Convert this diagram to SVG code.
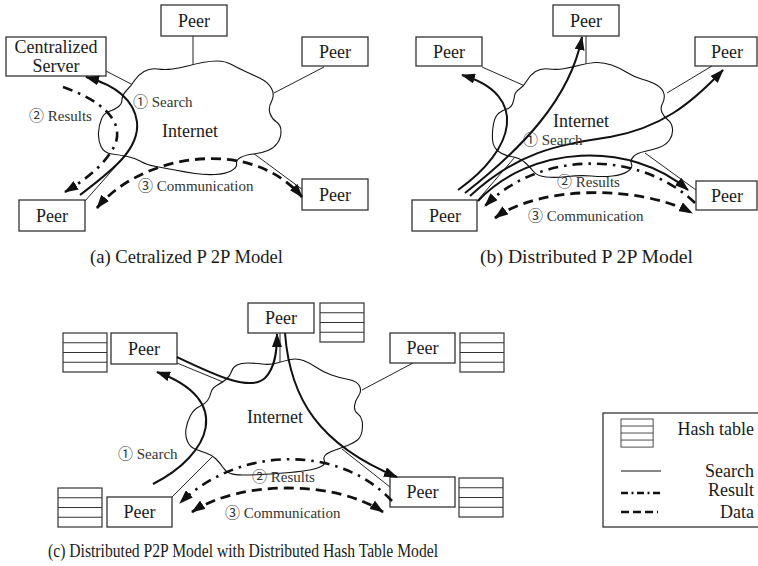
<svg xmlns="http://www.w3.org/2000/svg" width="758" height="566" viewBox="0 0 758 566">
<style>
.bg{fill:#fff}
.box{fill:#fff;stroke:#333;stroke-width:1.3}
.pt{font-family:"Liberation Serif","Times New Roman",serif;font-size:18px;fill:#1a1a1a;text-anchor:middle}
.lbl{font-family:"Liberation Serif","Noto Sans CJK SC",serif;font-size:15px;fill:#333}
.cap{font-family:"Liberation Serif","Times New Roman",serif;font-size:18px;fill:#1a1a1a}
.lg{font-family:"Liberation Serif","Times New Roman",serif;font-size:18px;fill:#1a1a1a;text-anchor:end}
.cloud{fill:#fff;stroke:#111;stroke-width:1.1}
.link{stroke:#222;stroke-width:1;fill:none}
.search{stroke:#111;stroke-width:2;fill:none;marker-end:url(#ah)}
.result{stroke:#111;stroke-width:2.6;fill:none;stroke-dasharray:10 6 2.5 6;marker-end:url(#ah)}
.data{stroke:#111;stroke-width:2.8;fill:none;stroke-dasharray:10 6;marker-start:url(#ahs);marker-end:url(#ah)}
.ht{fill:#fff;stroke:#333;stroke-width:1.2}
</style>
<defs>
<marker id="ah" markerUnits="userSpaceOnUse" viewBox="0 0 14 10" markerWidth="14" markerHeight="10" refX="13" refY="5" orient="auto"><path d="M0,0 L14,5 L0,10 Z" fill="#111"/></marker>
<marker id="ahs" markerUnits="userSpaceOnUse" viewBox="0 0 14 10" markerWidth="14" markerHeight="10" refX="13" refY="5" orient="auto-start-reverse"><path d="M0,0 L14,5 L0,10 Z" fill="#111"/></marker>
<g id="hash"><rect class="ht" x="0" y="0" width="44" height="39"/><path class="ht" d="M0,9.75 H44 M0,19.5 H44 M0,29.25 H44"/></g>
</defs>
<rect class="bg" x="0" y="0" width="758" height="566"/>

<!-- links (thin connectors) -->
<g id="links">
<path class="link" d="M106,71 L133,85 M193,36 L193,65 M324,67 L274,93 M253,153 L303,190 M85,201 L124,157"/>
<path class="link" d="M482,67 L525,86 M586,36 L586,65 M712,66 L667,93 M645,153 L696,190 M477,201 L515,157"/>
<path class="link" d="M177,363 L223,382 M280,333 L280,362 M413,363 L362,390 M342,449 L390,487 M172,497 L213,456"/>
</g>

<!-- Panel (a) -->
<g id="a-internet">
<path class="cloud" d="M 126.5,90.5 Q 131,86 134.5,80.5 Q 138,75 144,71.5 Q 150,68 157.5,69 Q 165,70 172.5,69 Q 180,68 187.5,66 Q 195,64 202.5,62.5 Q 210,61 217.5,61 Q 225,61 231.5,64.5 Q 238,68 245.5,71.5 Q 253,75 260.5,78.5 Q 268,82 271.5,88.5 Q 275,95 271.5,101.5 Q 268,108 270,113.5 Q 272,119 276.5,122 Q 281,125 281,131.5 Q 281,138 277.5,143 Q 274,148 268,150.5 Q 262,153 253.5,154 Q 245,155 240.5,157.5 Q 236,160 236.5,164 Q 237,168 231,171 Q 225,174 215,174.5 Q 205,175 195,173.5 Q 185,172 175,170 Q 165,168 156,166.5 Q 147,165 141,161.5 Q 135,158 127.5,156.5 Q 120,155 112,154 Q 104,153 101,146.5 Q 98,140 98.5,132.5 Q 99,125 101.5,119 Q 104,113 109,111.5 Q 114,110 118,107 Q 122,104 122,99.5 Q 122,95 126.5,90.5 Z"/>
<text class="pt" x="190" y="137">Internet</text>
</g>
<g id="a-server"><rect class="box" x="6" y="37" width="100" height="39"/><text class="pt" x="56" y="53">Centralized</text><text class="pt" x="56" y="72">Server</text></g>
<g id="a-peer-top"><rect class="box" x="161" y="5" width="66" height="31"/><text class="pt" x="194" y="27">Peer</text></g>
<g id="a-peer-right"><rect class="box" x="302" y="37" width="66" height="29"/><text class="pt" x="335" y="58">Peer</text></g>
<g id="a-peer-br"><rect class="box" x="302" y="179" width="66" height="31"/><text class="pt" x="335" y="201">Peer</text></g>
<g id="a-peer-bl"><rect class="box" x="19" y="200" width="66" height="31"/><text class="pt" x="52" y="222">Peer</text></g>

<!-- Panel (b) -->
<g id="b-internet">
<path class="cloud" d="M 519.5,89 Q 524,86 527,80.5 Q 530,75 535.5,71.5 Q 541,68 549,69 Q 557,70 565,68.5 Q 573,67 580.5,65 Q 588,63 595.5,62.5 Q 603,62 611.5,65 Q 620,68 627,72.5 Q 634,77 643,79.5 Q 652,82 657.5,85.5 Q 663,89 664,94 Q 665,99 662.5,103.5 Q 660,108 662,112.5 Q 664,117 668,120 Q 672,123 672.5,129 Q 673,135 669.5,140 Q 666,145 659,147.5 Q 652,150 644.5,151.5 Q 637,153 633.5,156.5 Q 630,160 631.5,164 Q 633,168 627.5,171.5 Q 622,175 612.5,176 Q 603,177 591.5,176 Q 580,175 567.5,176.5 Q 555,178 546,177 Q 537,176 533.5,171.5 Q 530,167 525,162.5 Q 520,158 511.5,156.5 Q 503,155 498,151 Q 493,147 492.5,139.5 Q 492,132 493.5,124 Q 495,116 499,113 Q 503,110 507,109 Q 511,108 512.5,104 Q 514,100 514.5,96 Q 515,92 519.5,89 Z"/>
<text class="pt" x="581" y="127">Internet</text>
</g>
<g id="b-peer-top"><rect class="box" x="553" y="5" width="66" height="31"/><text class="pt" x="586" y="27">Peer</text></g>
<g id="b-peer-left"><rect class="box" x="416" y="37" width="66" height="29"/><text class="pt" x="449" y="58">Peer</text></g>
<g id="b-peer-right"><rect class="box" x="695" y="37" width="62" height="29"/><text class="pt" x="727" y="58">Peer</text></g>
<g id="b-peer-br"><rect class="box" x="696" y="181" width="61" height="29"/><text class="pt" x="727" y="202">Peer</text></g>
<g id="b-peer-bl"><rect class="box" x="412" y="200" width="65" height="31"/><text class="pt" x="445" y="222">Peer</text></g>

<!-- Panel (c) -->
<g id="c-internet">
<path class="cloud" d="M 217.5,385 Q 223,382 226.5,379 Q 230,376 231.5,371.5 Q 233,367 237,365 Q 241,363 247.5,363 Q 254,363 262,364 Q 270,365 277,363 Q 284,361 290.5,359.5 Q 297,358 303.5,360.5 Q 310,363 316.5,367.5 Q 323,372 331.5,375 Q 340,378 348.5,379.5 Q 357,381 359.5,386 Q 362,391 358.5,396 Q 355,401 354.5,406 Q 354,411 357.5,413.5 Q 361,416 362,420.5 Q 363,425 362,431 Q 361,437 357.5,440 Q 354,443 347.5,445.5 Q 341,448 334,450.5 Q 327,453 325,455.5 Q 323,458 324.5,461 Q 326,464 321,466.5 Q 316,469 306.5,470.5 Q 297,472 283.5,473 Q 270,474 260,474.5 Q 250,475 242.5,475 Q 235,475 230.5,473.5 Q 226,472 223,467.5 Q 220,463 216,459 Q 212,455 206,453 Q 200,451 195,449 Q 190,447 187.5,441.5 Q 185,436 186,429 Q 187,422 190.5,415.5 Q 194,409 199.5,406.5 Q 205,404 207.5,400.5 Q 210,397 211,392.5 Q 212,388 217.5,385 Z"/>
<text class="pt" x="275" y="423">Internet</text>
</g>
<g id="c-peer-top"><rect class="box" x="248" y="303" width="66" height="30"/><text class="pt" x="281" y="324">Peer</text><use href="#hash" x="320" y="303"/></g>
<g id="c-peer-left"><use href="#hash" x="63" y="333"/><rect class="box" x="111" y="333" width="66" height="31"/><text class="pt" x="144" y="355">Peer</text></g>
<g id="c-peer-right"><rect class="box" x="390" y="333" width="65" height="30"/><text class="pt" x="422.5" y="354">Peer</text><use href="#hash" x="460" y="333"/></g>
<g id="c-peer-br"><rect class="box" x="390" y="477" width="65" height="30"/><text class="pt" x="422.5" y="498">Peer</text><use href="#hash" x="459" y="478"/></g>
<g id="c-peer-bl"><use href="#hash" x="58" y="488"/><rect class="box" x="107" y="497" width="65" height="30"/><text class="pt" x="139.5" y="518">Peer</text></g>

<!-- flows (arrows) -->
<g id="flows">
<path class="search" d="M80,195 C110,172 140,150 137,122 C134,100 115,85 86,77"/>
<path class="result" d="M63,87 C100,100 125,120 115,145 C105,165 85,180 65,192"/>
<path class="data" d="M97,208 C140,155 250,135 302,197"/>

<path class="search" d="M458,190 C515,150 530,95 462,75"/>
<path class="search" d="M465,193 C520,150 570,100 582,37"/>
<path class="search" d="M470,196 C520,150 560,145 610,137 C660,128 690,105 723,70"/>
<path class="search" d="M478,201 C530,145 630,140 688,190"/>
<path class="result" d="M695,203 C640,150 540,150 485,206"/>
<path class="data" d="M495,218 C540,185 640,185 692,213"/>

<path class="search" d="M153,484 C210,455 235,400 157,372"/>
<path class="search" d="M177,357 C215,375 250,392 265,378 C275,368 277,352 277,334"/>
<path class="search" d="M285,333 C290,400 320,445 397,477"/>
<path class="result" d="M392,501 C340,445 240,445 180,503"/>
<path class="data" d="M192,512 C240,480 335,480 383,512"/>
</g>

<!-- flow labels -->
<g id="labels">
<text class="lbl" x="133" y="107">① Search</text>
<text class="lbl" x="29" y="121">② Results</text>
<text class="lbl" x="138" y="191">③ Communication</text>
<text class="lbl" x="523" y="145">① Search</text>
<text class="lbl" x="557" y="187">② Results</text>
<text class="lbl" x="528" y="221">③ Communication</text>
<text class="lbl" x="118" y="459">① Search</text>
<text class="lbl" x="252" y="482">② Results</text>
<text class="lbl" x="225" y="518">③ Communication</text>
</g>

<!-- captions -->
<g id="captions">
<text class="cap" x="90" y="263" textLength="193" lengthAdjust="spacingAndGlyphs">(a) Cetralized P 2P Model</text>
<text class="cap" x="480" y="263" textLength="213" lengthAdjust="spacingAndGlyphs">(b) Distributed P 2P Model</text>
<text class="cap" x="48" y="557" textLength="390" lengthAdjust="spacingAndGlyphs">(c) Distributed P2P Model with Distributed Hash Table Model</text>
</g>

<!-- legend -->
<g id="legend">
<rect class="box" x="603" y="413" width="160" height="114"/>
<g transform="translate(621,419) scale(0.73,0.72)"><use href="#hash"/></g>
<text class="lg" x="754" y="435">Hash table</text>
<line x1="621" y1="471" x2="661" y2="471" stroke="#111" stroke-width="1.2"/>
<text class="lg" x="754" y="477">Search</text>
<line x1="621" y1="493" x2="661" y2="493" stroke="#111" stroke-width="2.4" stroke-dasharray="7 3.5 2 3.5"/>
<text class="lg" x="754" y="496">Result</text>
<line x1="621" y1="512" x2="658" y2="512" stroke="#111" stroke-width="2.4" stroke-dasharray="8 4"/>
<text class="lg" x="754" y="518">Data</text>
</g>
</svg>
